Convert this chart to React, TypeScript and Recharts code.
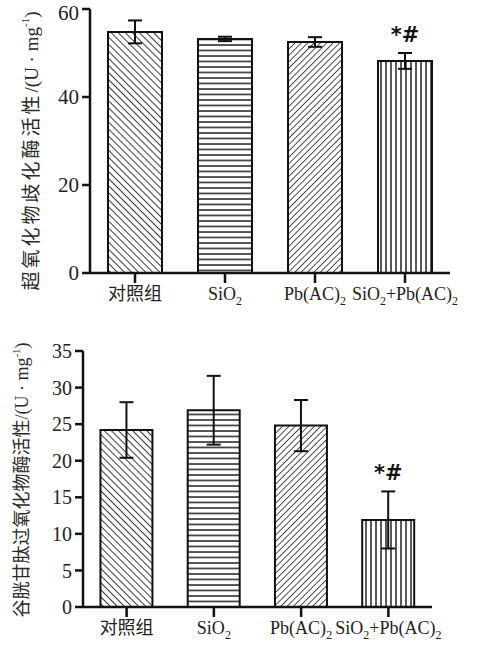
import React from 'react';
import { BarChart, Bar, XAxis, YAxis, Cell, ErrorBar, ReferenceDot } from 'recharts';

const categories = ['对照组', 'SiO2', 'Pb(AC)2', 'SiO2+Pb(AC)2'];
const sodMean = [54.8, 53.2, 52.5, 48.2];
const sodErr = [2.6, 0.5, 1.1, 1.8];
const gshMean = [24.2, 26.9, 24.8, 11.9];
const gshErr = [3.8, 4.7, 3.5, 3.9];
const sigMarks = ['', '', '', '*#'];
const sodTicks = [0, 20, 40, 60];
const gshTicks = [0, 5, 10, 15, 20, 25, 30, 35];

const sodData = categories.map((c, i) => ({ name: c, v: sodMean[i], e: sodErr[i], m: sigMarks[i] }));
const gshData = categories.map((c, i) => ({ name: c, v: gshMean[i], e: gshErr[i], m: sigMarks[i] }));

const FONT = "'Liberation Serif', 'Noto Sans CJK SC', serif";
const patIds = ['patBack', 'patHoriz', 'patFwd', 'patVert'];

function Patterns({ p }: { p: string }) {
  return (
    <defs>
      <pattern id={p + 'patBack'} width="5" height="5" patternUnits="userSpaceOnUse" patternTransform="rotate(-45)">
        <rect width="5" height="5" fill="#fff" />
        <line x1="0" y1="0" x2="0" y2="5" stroke="#222" strokeWidth="1.8" />
      </pattern>
      <pattern id={p + 'patHoriz'} width="5.5" height="5.5" patternUnits="userSpaceOnUse">
        <rect width="5.5" height="5.5" fill="#fff" />
        <line x1="0" y1="1" x2="5.5" y2="1" stroke="#222" strokeWidth="1.5" />
      </pattern>
      <pattern id={p + 'patFwd'} width="4.5" height="4.5" patternUnits="userSpaceOnUse" patternTransform="rotate(45)">
        <rect width="4.5" height="4.5" fill="#fff" />
        <line x1="0" y1="0" x2="0" y2="4.5" stroke="#222" strokeWidth="1.6" />
      </pattern>
      <pattern id={p + 'patVert'} width="5" height="5" patternUnits="userSpaceOnUse">
        <rect width="5" height="5" fill="#fff" />
        <line x1="1" y1="0" x2="1" y2="5" stroke="#222" strokeWidth="1.5" />
      </pattern>
    </defs>
  );
}

function renderSub(label: string) {
  const segs: { t: string; sub: boolean }[] = [];
  for (const ch of label) {
    const sub = ch === '2';
    const last = segs[segs.length - 1];
    if (last && last.sub === sub) last.t += ch;
    else segs.push({ t: ch, sub });
  }
  let shifted = false;
  return segs.map((s, k) => {
    let dy: number | undefined = undefined;
    if (s.sub && !shifted) { dy = 5; shifted = true; }
    else if (!s.sub && shifted) { dy = -5; shifted = false; }
    return (
      <tspan key={k} dy={dy} fontSize={s.sub ? 12 : undefined}>
        {s.t}
      </tspan>
    );
  });
}

function XTick(props: any) {
  const { x, y, payload } = props;
  return (
    <text x={x} y={y + 13} textAnchor="middle" fontFamily={FONT} fontSize={18} fill="#222">
      {renderSub(payload.value)}
    </text>
  );
}

function makeYLabel(main: string, cx: number, cy: number, fs: number, ls: number) {
  return () => (
    <text
      x={cx}
      y={cy}
      transform={`rotate(-90, ${cx}, ${cy})`}
      textAnchor="middle"
      dominantBaseline="central"
      fontFamily={FONT}
      fontSize={fs}
      fill="#2a2a2a"
    >
      <tspan letterSpacing={ls}>{main}</tspan>
      <tspan>{'/(U · mg'}</tspan>
      <tspan dy={-6} fontSize={11}>-1</tspan>
      <tspan dy={6}>)</tspan>
    </text>
  );
}

const sigLabel = (text: string) => ({
  value: text,
  position: 'top' as const,
  offset: 11,
  fontFamily: "'DejaVu Sans', sans-serif",
  fontWeight: 'bold',
  fontSize: 21,
  fill: '#111',
});

function Panel({ data, ticks, domain, yWidth, marginRight, marginTop, height, xHeight, label, pid, tickFs }: any) {
  return (
    <BarChart
      width={488}
      height={height}
      data={data}
      margin={{ top: marginTop, right: marginRight, bottom: 0, left: 0 }}
      barCategoryGap="20%"
    >
      <Patterns p={pid} />
      <XAxis
        dataKey="name"
        tick={<XTick />}
        tickSize={10}
        tickMargin={4}
        axisLine={{ stroke: '#111', strokeWidth: 2.5 }}
        tickLine={{ stroke: '#111', strokeWidth: 2.5 }}
        height={xHeight}
        interval={0}
      />
      <YAxis
        domain={domain}
        ticks={ticks}
        width={yWidth}
        tickSize={8}
        tickMargin={3}
        axisLine={{ stroke: '#111', strokeWidth: 2.5 }}
        tickLine={{ stroke: '#111', strokeWidth: 2.5 }}
        tick={{ fontFamily: FONT, fontSize: tickFs, fill: '#222' }}
        allowDataOverflow
        label={{ content: label }}
      />
      <Bar dataKey="v" stroke="#111" strokeWidth={2} isAnimationActive={false}>
        {data.map((d: any, i: number) => (
          <Cell key={i} fill={`url(#${pid}${patIds[i]})`} />
        ))}
        <ErrorBar dataKey="e" width={7} stroke="#111" strokeWidth={2} direction="y" />
      </Bar>
      {data
        .filter((d: any) => d.m)
        .map((d: any, i: number) => (
          <ReferenceDot key={i} x={d.name} y={d.v + d.e} r={0} stroke="none" fill="none" ifOverflow="visible" label={sigLabel(d.m)} />
        ))}
    </BarChart>
  );
}

export default function App() {
  return (
    <div style={{ position: 'absolute', left: 0, top: 0, width: 488, height: 645, background: '#fff' }}>
      <div style={{ position: 'absolute', left: 0, top: 0 }}>
        <Panel
          pid="a"
          data={sodData}
          ticks={sodTicks}
          domain={[0, 60]}
          yWidth={90}
          marginRight={38}
          marginTop={9}
          height={315}
          xHeight={42}
          tickFs={21}
          label={makeYLabel('超氧化物歧化酶活性', 31, 151, 19, 3)}
        />
      </div>
      <div style={{ position: 'absolute', left: 0, top: 320 }}>
        <Panel
          pid="b"
          data={gshData}
          ticks={gshTicks}
          domain={[0, 35]}
          yWidth={83}
          marginRight={56}
          marginTop={31}
          height={325}
          xHeight={38}
          tickFs={20}
          label={makeYLabel('谷胱甘肽过氧化物酶活性', 22, 160, 18, 0)}
        />
      </div>
    </div>
  );
}
